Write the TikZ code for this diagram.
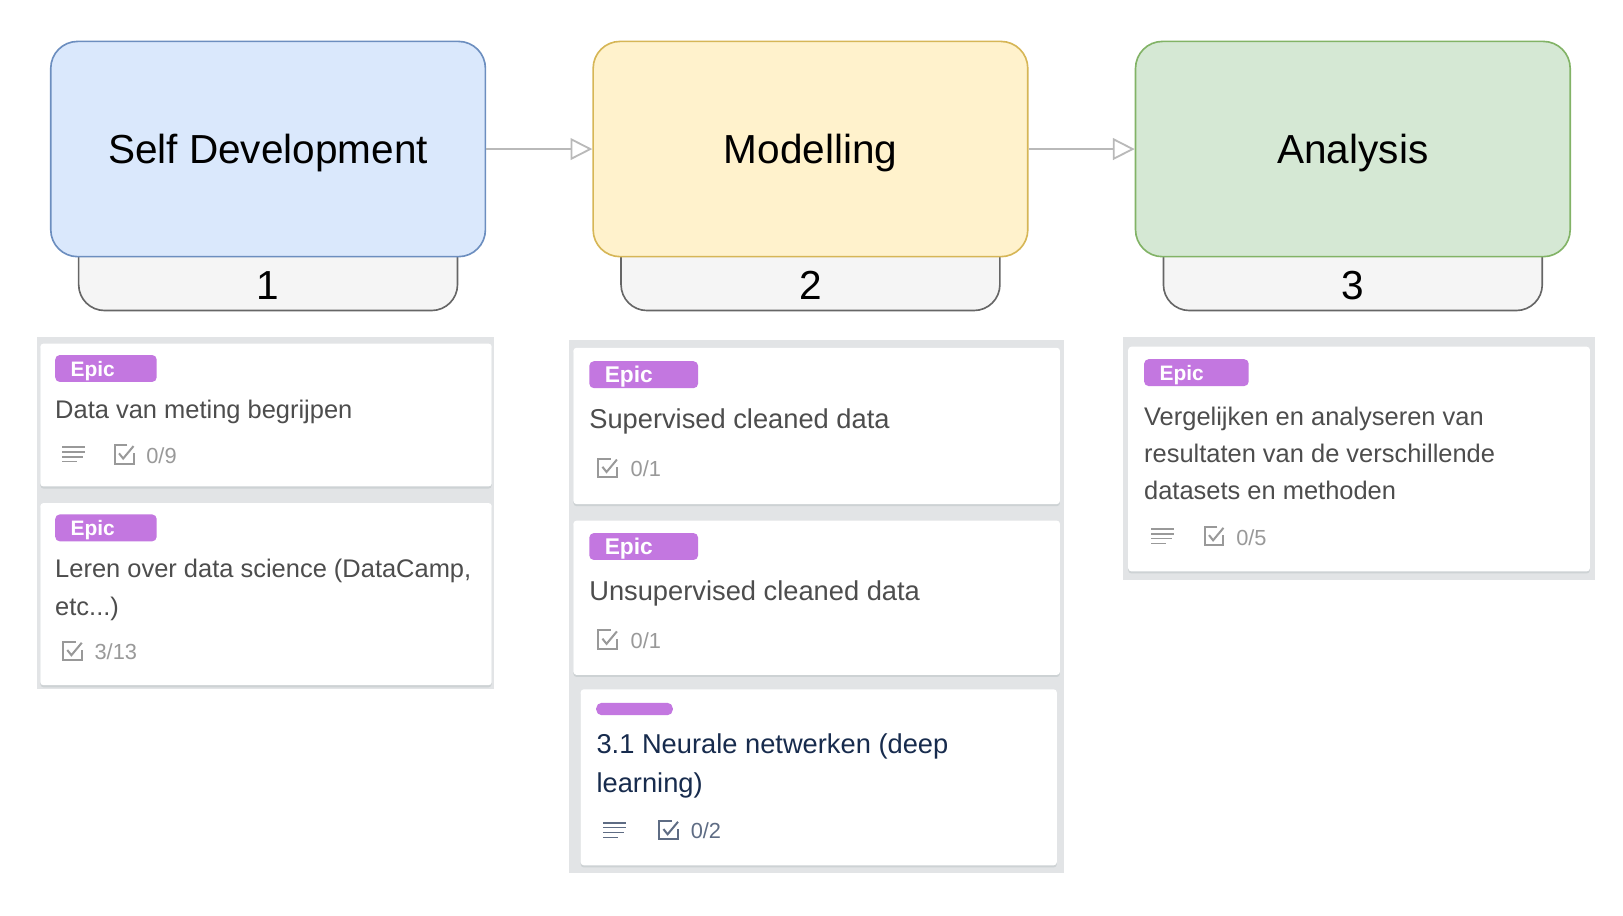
\documentclass[tikz,border=0pt]{standalone}
\usepackage{fontspec}
\setmainfont{Liberation Sans}
\usetikzlibrary{arrows.meta}

\definecolor{blueFill}{HTML}{DAE8FC}
\definecolor{blueLine}{HTML}{6C8EBF}
\definecolor{yellowFill}{HTML}{FFF2CC}
\definecolor{yellowLine}{HTML}{D6B656}
\definecolor{greenFill}{HTML}{D5E8D4}
\definecolor{greenLine}{HTML}{82B366}
\definecolor{tabFill}{HTML}{F5F5F5}
\definecolor{tabLine}{HTML}{666666}
\definecolor{listGray}{HTML}{E2E4E6}
\definecolor{shadowGray}{HTML}{CDD2D4}
\definecolor{epicPurple}{HTML}{C377E0}
\definecolor{cardText}{HTML}{4D4D4D}
\definecolor{metaGray}{HTML}{999999}
\definecolor{navy}{HTML}{172B4D}
\definecolor{slate}{HTML}{5E6C84}

\tikzset{
  phase/.style={rounded corners=0.52cm, minimum width=8.4cm, minimum height=4.16cm,
    line width=0.9pt, text height=16pt, text depth=0pt, font=\fontsize{22.3}{26}\selectfont},
  phasetab/.style={draw=tabLine, fill=tabFill, rounded corners=0.5cm, line width=0.9pt},
  phasenum/.style={font=\fontsize{22.3}{26}\selectfont},
  flow/.style={draw=gray!55, line width=1pt, -{Triangle[length=12pt,width=12pt,fill=white]}},
  card/.style={fill=white, rounded corners=1.7pt},
  cardshadow/.style={fill=shadowGray, rounded corners=1.7pt},
  epic/.style={fill=epicPurple, text=white, rounded corners=2.5pt, anchor=west,
    inner xsep=8.5pt, inner ysep=0pt, minimum height=14.8pt, text width=#1,
    text height=8.4pt, text depth=0pt,
    font=\bfseries\fontsize{11.5}{13}\selectfont},
  title/.style={anchor=west, inner sep=0pt, text=cardText, align=left,
    font=\fontsize{14}{20.5}\selectfont},
  count/.style={anchor=west, inner sep=0pt, text=metaGray, font=\fontsize{12}{14}\selectfont},
  icon/.style={line width=1.1pt},
  desc/.pic={\draw[line width=0.8pt] (0,-7) -- (22,-7) (0,-2.3) -- (22,-2.3)
    (0,2.3) -- (20,2.3) (0,7) -- (14,7);},
  chk/.pic={\draw[icon] (3,-9) -- (-9,-9) -- (-9,9) -- (9,9) -- (9,-1);
    \draw[icon] (-5,-1) -- (-1,4) -- (9,-8);}
}

\begin{document}
\begin{tikzpicture}[x=0.02cm,y=-0.02cm]
\useasboundingbox (0,0) rectangle (1568,884);

% phase tabs
\draw[phasetab] (76,200) rectangle (442,300);
\draw[phasetab] (600,200) rectangle (966,300);
\draw[phasetab] (1124,200) rectangle (1490,300);

% phases
\node[phase, draw=blueLine, fill=blueFill] (selfdev) at (259,144) {Self Development};
\node[phase, draw=yellowLine, fill=yellowFill] (model) at (783,144) {Modelling};
\node[phase, draw=greenLine, fill=greenFill] (analysis) at (1307,144) {Analysis};
\node[phasenum] (num1) at (259,276) {1};
\node[phasenum] (num2) at (783,276) {2};
\node[phasenum] (num3) at (1307,276) {3};

\draw[flow] (selfdev) -- (model);
\draw[flow] (model) -- (analysis);

% list 1
\fill[listGray] (36,326) rectangle (477,666);
\fill[cardshadow] (39,334) rectangle (475,472);
\fill[card] (39,332) rectangle (475,470);
\node[epic=38.8pt] (epic1) at (53,356) {Epic};
\node[title] (data) at (53,398) {Data van meting begrijpen};
\pic[metaGray] at (60,439) {desc};
\pic[metaGray] at (120,439) {chk};
\node[count] (cnt1) at (141,440) {0/9};

\fill[cardshadow] (39,488) rectangle (475,664);
\fill[card] (39,486) rectangle (475,662);
\node[epic=38.8pt] (epic2) at (53,510) {Epic};
\node[title] (leren) at (53,570) {Leren over data science (DataCamp,\\etc...)};
\pic[metaGray] at (70,629) {chk};
\node[count] (cnt2) at (91,630) {3/13};

% list 2
\fill[listGray] (550,328) rectangle (1028,843);
\fill[cardshadow] (554,338) rectangle (1024,489);
\fill[card] (554,336) rectangle (1024,487);
\node[epic=42.8pt, text height=9pt, font=\bfseries\fontsize{12.5}{14}\selectfont] (epic3) at (569,362) {Epic};
\node[title, font=\fontsize{15}{21}\selectfont] (superv) at (569,407) {Supervised cleaned data};
\pic[metaGray] at (587,452) {chk};
\node[count] (cnt3) at (609,453) {0/1};

\fill[cardshadow] (554,505) rectangle (1024,654);
\fill[card] (554,503) rectangle (1024,652);
\node[epic=42.8pt, text height=9pt, font=\bfseries\fontsize{12.5}{14}\selectfont] (epic4) at (569,528) {Epic};
\node[title, font=\fontsize{15}{21}\selectfont] (unsuperv) at (569,573) {Unsupervised cleaned data};
\pic[metaGray] at (587,618) {chk};
\node[count] (cnt4) at (609,619) {0/1};

\fill[cardshadow] (561,668) rectangle (1021,838);
\fill[card] (561,666) rectangle (1021,836);
\fill[epicPurple, rounded corners=3pt] (576,679) rectangle (650,691);
\node[title, text=navy, font=\fontsize{15}{21}\selectfont] (neural) at (576,740)
  {3.1 Neurale netwerken (deep\\learning)};
\pic[slate] at (583,802) {desc};
\pic[slate] at (646,802) {chk};
\node[count, text=slate] (cnt5) at (667,803) {0/2};

% list 3
\fill[listGray] (1085,326) rectangle (1541,560);
\fill[cardshadow] (1090,337) rectangle (1536,554);
\fill[card] (1090,335) rectangle (1536,552);
\node[epic=40.5pt] (epic5) at (1105,360) {Epic};
\node[title] (vergelijk) at (1105,438)
  {Vergelijken en analyseren van\\resultaten van de verschillende\\datasets en methoden};
\pic[metaGray] at (1112,518) {desc};
\pic[metaGray] at (1173,518) {chk};
\node[count] (cnt6) at (1194,519) {0/5};
\end{tikzpicture}
\end{document}
